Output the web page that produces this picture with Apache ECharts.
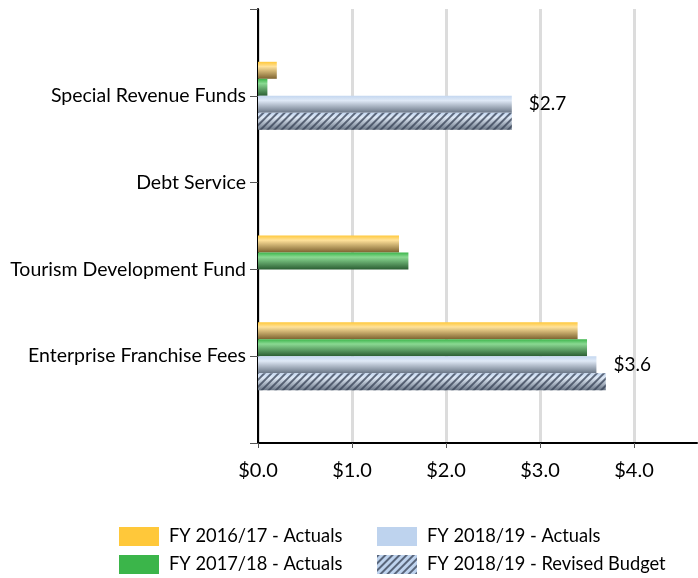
<!DOCTYPE html>
<html>
<head>
<meta charset="utf-8">
<script src="https://cdn.jsdelivr.net/npm/echarts@6/dist/echarts.min.js"></script>
<style>
  html, body { margin: 0; padding: 0; background: #fff; }
  #chart { width: 698px; height: 578px; }
</style>
</head>
<body>
<div id="chart"></div>
<script>
// blank entries at both ends give the empty top/bottom slots of the axis
const categories = ["", "Special Revenue Funds", "Debt Service", "Tourism Development Fund", "Enterprise Franchise Fees", ""]
const fy1617Actuals = [null, 0.2, 0, 1.5, 3.4, null]
const fy1718Actuals = [null, 0.1, 0, 1.6, 3.5, null]
const fy1819Actuals = [null, 2.7, 0, 0, 3.6, null]
const fy1819Revised = [null, 2.7, 0, 0, 3.7, null]
const seriesNames = ["FY 2016/17 - Actuals", "FY 2017/18 - Actuals", "FY 2018/19 - Actuals", "FY 2018/19 - Revised Budget"]

const FONT = "Lato, 'Open Sans', sans-serif"

const shade = (top, light, bottom) => new echarts.graphic.LinearGradient(0, 0, 0, 1, [
  { offset: 0, color: top },
  { offset: 0.28, color: light },
  { offset: 1, color: bottom }
])

const hatch = {
  symbol: "rect",
  symbolSize: 1,
  dashArrayX: [1, 0],
  dashArrayY: [1.5, 2.5],
  rotation: -Math.PI / 4,
  color: "rgba(55, 65, 85, 0.75)"
}

const chart = echarts.init(document.getElementById("chart"))

const barBase = {
  type: "bar",
  barWidth: 17,
  barGap: "0%",
  animation: false
}

const legendBase = {
  orient: "vertical",
  top: 527,
  height: 60,
  padding: 0,
  icon: "rect",
  itemWidth: 40,
  itemHeight: 19,
  itemGap: 9,
  textStyle: { fontSize: 18.3, color: "#000", fontFamily: FONT, padding: [0, 0, 0, 5] }
}

chart.setOption({
  textStyle: { fontFamily: FONT },
  grid: { left: 258, top: 9, right: 1, bottom: 135, containLabel: false },
  legend: [
    {
      ...legendBase,
      left: 119,
      data: [
        { name: seriesNames[0], itemStyle: { color: "#ffc83a" } },
        { name: seriesNames[1], itemStyle: { color: "#3bb54a" } }
      ]
    },
    {
      ...legendBase,
      left: 377,
      data: [
        { name: seriesNames[2], itemStyle: { color: "#bed3ee" } },
        { name: seriesNames[3], itemStyle: { color: "#bed3ee" } }
      ]
    }
  ],
  xAxis: {
    type: "value",
    min: 0,
    max: 4.67,
    interval: 1,
    axisLine: { show: true, lineStyle: { color: "#000", width: 2 } },
    axisTick: { show: true, length: 5, lineStyle: { color: "#555" } },
    axisLabel: {
      fontSize: 20,
      color: "#000",
      margin: 18,
      showMaxLabel: false,
      formatter: v => "$" + v.toFixed(1)
    },
    splitLine: { show: true, showMaxLine: false, lineStyle: { color: "#dcdcdc", width: 3 } }
  },
  yAxis: {
    type: "category",
    data: categories,
    inverse: true,
    boundaryGap: false,
    axisLine: { lineStyle: { color: "#000", width: 2 } },
    axisTick: { length: 8, lineStyle: { color: "#555" } },
    axisLabel: { fontSize: 19.5, color: "#000", margin: 12 },
    splitLine: { show: false }
  },
  series: [
    {
      ...barBase,
      name: seriesNames[0],
      data: fy1617Actuals,
      itemStyle: { color: shade("#ffc83a", "#ffe29a", "#7d6330") }
    },
    {
      ...barBase,
      name: seriesNames[1],
      data: fy1718Actuals,
      itemStyle: { color: shade("#3bb54a", "#8ad992", "#2b5e33") }
    },
    {
      ...barBase,
      name: seriesNames[2],
      data: fy1819Actuals,
      itemStyle: { color: shade("#c4d7f0", "#dfe9f6", "#6a7686") },
      label: {
        show: true,
        position: "right",
        distance: 17,
        fontSize: 19,
        color: "#000",
        fontFamily: FONT,
        formatter: p => (p.value ? "$" + p.value.toFixed(1) : "")
      }
    },
    {
      ...barBase,
      name: seriesNames[3],
      data: fy1819Revised,
      itemStyle: {
        color: shade("#c4d7f0", "#dfe9f6", "#6a7686"),
        decal: hatch
      }
    }
  ]
})
</script>
</body>
</html>
